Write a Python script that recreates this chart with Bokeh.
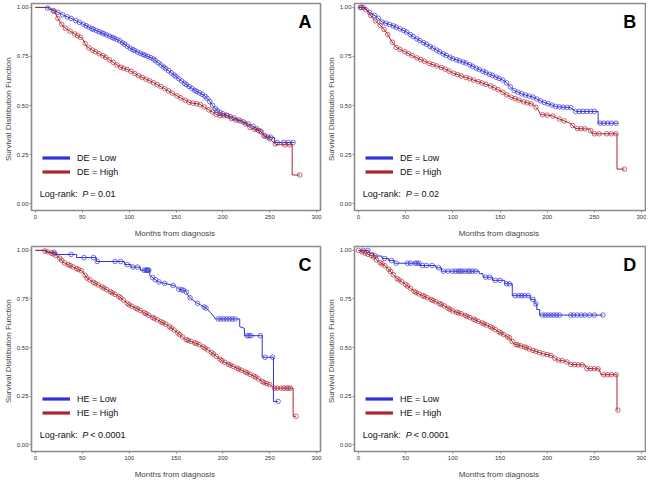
from bokeh.plotting import figure
from bokeh.layouts import gridplot
from bokeh.models import Range1d, Label, Legend, LegendItem, FixedTicker
from bokeh.embed import file_html
from bokeh.resources import INLINE

# ---------------- data ----------------
# Kaplan-Meier curve vertices: (months, survival)
A_low = [(0, 1.0), (12, 1.0), (15, 0.99), (22, 0.98), (30, 0.96), (40, 0.94), (50, 0.917), (60, 0.892),
         (75, 0.862), (90, 0.83), (100, 0.795), (110, 0.77), (125, 0.74), (140, 0.685), (150, 0.648),
         (160, 0.61), (170, 0.577), (180, 0.552), (185, 0.527), (190, 0.494), (195, 0.469), (200, 0.458),
         (210, 0.44), (220, 0.42), (230, 0.40), (240, 0.37), (245, 0.34), (255, 0.337), (255, 0.312), (276, 0.312)]
A_high = [(0, 1.0), (15, 1.0), (20, 0.98), (25, 0.935), (30, 0.90), (35, 0.885), (45, 0.856), (50, 0.842),
          (55, 0.80), (60, 0.785), (75, 0.746), (90, 0.697), (100, 0.68), (110, 0.652), (125, 0.619),
          (135, 0.594), (150, 0.552), (165, 0.514), (175, 0.507), (185, 0.478), (195, 0.449), (205, 0.448),
          (210, 0.43), (220, 0.42), (230, 0.385), (240, 0.37), (245, 0.345), (250, 0.33), (257, 0.30),
          (274, 0.30), (274, 0.146), (282, 0.146)]
B_low = [(0, 1.0), (7, 1.0), (10, 0.98), (20, 0.95), (25, 0.926), (35, 0.91), (50, 0.878), (60, 0.845),
         (75, 0.804), (90, 0.763), (100, 0.739), (115, 0.715), (125, 0.69), (140, 0.657), (150, 0.636),
         (155, 0.625), (160, 0.60), (165, 0.576), (175, 0.556), (185, 0.543), (195, 0.519), (210, 0.494),
         (225, 0.489), (230, 0.47), (254, 0.47), (254, 0.41), (275, 0.41)]
B_high = [(0, 1.0), (5, 1.0), (10, 0.98), (15, 0.945), (25, 0.90), (30, 0.87), (35, 0.829), (40, 0.796),
          (50, 0.772), (60, 0.747), (75, 0.715), (90, 0.69), (100, 0.666), (110, 0.649), (125, 0.625),
          (140, 0.60), (150, 0.576), (160, 0.546), (175, 0.519), (185, 0.506), (190, 0.481), (193, 0.454),
          (205, 0.449), (210, 0.437), (225, 0.408), (230, 0.383), (245, 0.38), (248, 0.356), (274, 0.356),
          (274, 0.176), (282, 0.176)]
C_low = [(0, 1.0), (12, 1.0), (12, 0.99), (22, 0.99), (22, 0.979), (44, 0.979), (44, 0.963), (65, 0.963),
         (65, 0.943), (95, 0.943), (95, 0.927), (102, 0.927), (102, 0.914), (112, 0.914), (112, 0.898),
         (122, 0.898), (122, 0.87), (126, 0.857), (130, 0.841), (135, 0.833), (140, 0.828), (145, 0.822),
         (150, 0.815), (153, 0.80), (160, 0.793), (162, 0.777), (164, 0.76), (167, 0.748), (172, 0.73),
         (176, 0.72), (183, 0.70), (186, 0.683), (190, 0.663), (192, 0.647), (218, 0.647), (218, 0.607),
         (223, 0.599), (223, 0.561), (242, 0.561), (242, 0.45), (254, 0.45), (254, 0.223), (259, 0.223)]
C_high = [(0, 1.0), (8, 1.0), (15, 0.99), (20, 0.98), (25, 0.965), (30, 0.938), (40, 0.915), (50, 0.893),
          (55, 0.858), (60, 0.841), (75, 0.801), (90, 0.76), (100, 0.72), (110, 0.696), (125, 0.655),
          (140, 0.618), (150, 0.583), (160, 0.542), (175, 0.515), (185, 0.485), (200, 0.429), (210, 0.405),
          (225, 0.372), (235, 0.348), (245, 0.316), (250, 0.31), (255, 0.291), (275, 0.291), (275, 0.146),
          (278, 0.146)]
D_low = [(0, 1.0), (11, 1.0), (11, 0.987), (16, 0.987), (16, 0.971), (25, 0.971), (25, 0.958), (32, 0.958),
         (32, 0.948), (38, 0.948), (38, 0.934), (65, 0.934), (65, 0.922), (82, 0.922), (82, 0.91), (88, 0.91),
         (88, 0.893), (128, 0.893), (128, 0.88), (132, 0.88), (132, 0.862), (142, 0.862), (142, 0.846),
         (155, 0.846), (155, 0.828), (163, 0.828), (163, 0.767), (182, 0.767), (182, 0.748), (187, 0.748),
         (187, 0.725), (189, 0.725), (189, 0.696), (192, 0.696), (192, 0.667), (259, 0.667)]
D_high = [(0, 1.0), (5, 0.99), (10, 0.98), (15, 0.971), (20, 0.947), (30, 0.914), (40, 0.858), (50, 0.825),
          (60, 0.785), (75, 0.752), (90, 0.717), (100, 0.688), (110, 0.672), (125, 0.639), (140, 0.607),
          (150, 0.578), (160, 0.55), (165, 0.518), (175, 0.505), (185, 0.485), (195, 0.469), (205, 0.458),
          (210, 0.437), (220, 0.429), (225, 0.413), (240, 0.41), (242, 0.392), (255, 0.39), (257, 0.36),
          (274, 0.36), (274, 0.178), (275, 0.178)]

# censoring times (months)
A_low_cens = [13, 19, 24, 29, 34, 38, 43, 47, 51, 54, 57, 60, 62, 65, 68, 71, 73, 76, 79, 82, 84, 87, 90, 93,
              95, 98, 101, 104, 106, 109, 112, 115, 117, 120, 123, 126, 128, 131, 134, 137, 139, 142, 145, 148,
              150, 153, 156, 159, 161, 164, 167, 170, 172, 175, 178, 181, 183, 186, 189, 192, 194, 197, 200,
              204, 208, 212, 217, 222, 227, 232, 236, 240, 244, 248, 251, 258, 265, 270, 275]
A_high_cens = [20, 24, 28, 32, 37, 42, 45, 48, 53, 57, 61, 64, 68, 72, 75, 79, 83, 87, 91, 94, 98, 102, 106,
               110, 114, 118, 122, 126, 130, 134, 138, 142, 146, 151, 155, 160, 164, 168, 172, 176, 180, 185,
               189, 193, 197, 201, 205, 209, 214, 219, 224, 229, 234, 238, 241, 245, 250, 256, 266, 271, 282]
B_low_cens = [2, 5, 12, 17, 21, 25, 29, 33, 37, 40, 44, 48, 51, 55, 58, 62, 65, 69, 72, 76, 79, 83, 86, 90,
              93, 97, 100, 104, 107, 111, 114, 118, 121, 125, 128, 132, 135, 139, 142, 146, 149, 153, 157, 161,
              165, 169, 173, 177, 181, 185, 189, 193, 197, 201, 205, 209, 213, 217, 221, 225, 230, 234, 238,
              242, 246, 250, 256, 260, 264, 268, 273]
B_high_cens = [3, 8, 13, 18, 23, 27, 31, 36, 40, 44, 49, 53, 57, 62, 66, 70, 75, 79, 83, 88, 92, 96, 101, 105,
               109, 114, 118, 122, 127, 131, 135, 140, 144, 148, 153, 157, 162, 166, 170, 175, 179, 183, 188,
               195, 200, 206, 213, 218, 227, 232, 236, 240, 246, 250, 255, 263, 268, 273, 282]
C_low_cens = [20, 38, 52, 62, 66, 85, 91, 98, 104, 109, 116, 118, 119, 120, 121, 125, 128, 132, 138, 147, 153,
              156, 158, 161, 165, 173, 180, 182, 195, 198, 201, 204, 207, 210, 213, 226, 228, 230, 240, 245,
              253, 259]
C_high_cens = [10, 13, 17, 19, 22, 26, 28, 31, 35, 37, 40, 44, 46, 49, 53, 55, 58, 62, 64, 67, 71, 73, 76, 80,
               82, 85, 89, 91, 94, 98, 100, 103, 107, 109, 112, 116, 118, 121, 125, 127, 130, 134, 136, 139,
               143, 145, 148, 152, 154, 157, 161, 163, 166, 170, 172, 175, 179, 181, 184, 188, 190, 193, 197,
               199, 202, 206, 208, 211, 215, 217, 220, 224, 226, 229, 233, 235, 238, 242, 244, 247, 250, 255,
               258, 262, 265, 268, 270, 272, 278]
D_low_cens = [5, 10, 18, 28, 35, 40, 52, 55, 60, 62, 64, 68, 72, 78, 85, 90, 95, 100, 103, 106, 108, 110, 113,
              116, 118, 121, 124, 135, 139, 145, 150, 157, 160, 166, 170, 173, 176, 180, 185, 188, 195, 198,
              201, 204, 207, 210, 213, 225, 228, 232, 236, 240, 245, 250, 259]
D_high_cens = [0, 4, 7, 10, 14, 16, 19, 23, 25, 28, 32, 34, 37, 41, 43, 46, 50, 52, 55, 59, 61, 64, 68, 70,
               73, 77, 79, 82, 86, 88, 91, 95, 97, 100, 104, 106, 109, 113, 115, 118, 122, 124, 127, 131, 133,
               136, 140, 142, 145, 149, 151, 154, 158, 160, 163, 167, 169, 172, 176, 178, 181, 185, 188, 192,
               196, 200, 204, 208, 212, 216, 221, 225, 229, 233, 237, 242, 246, 250, 254, 260, 264, 268, 273, 275]

x_ticks = [0, 50, 100, 150, 200, 250, 300]
y_ticks = [0.0, 0.25, 0.50, 0.75, 1.00]
y_tick_labels = {0.0: "0.00", 0.25: "0.25", 0.5: "0.50", 0.75: "0.75", 1.0: "1.00"}

# ---------------- styling ----------------
BLUE = "#3030d8"
RED = "#ae2430"
FONT = "Liberation Sans"
NAN = float("nan")


def surv_at(curve, c):
    ts = [p[0] for p in curve]
    ss = [p[1] for p in curve]
    i = max(k for k in range(len(ts)) if ts[k] <= c)
    if i + 1 < len(ts) and ts[i + 1] > ts[i]:
        f = (c - ts[i]) / (ts[i + 1] - ts[i])
        return ss[i] + f * (ss[i + 1] - ss[i])
    return ss[i]


def panel(low, low_c, high, high_c, var, ptext, letter, width, height, bl, br, bt, bb, leg_y):
    p = figure(width=width, height=height, output_backend="svg", toolbar_location=None,
               x_range=Range1d(-4.2, 304.2), y_range=Range1d(-0.035, 1.02),
               min_border_left=bl, min_border_right=br, min_border_top=bt, min_border_bottom=bb)
    p.xgrid.visible = False
    p.ygrid.visible = False
    p.outline_line_color = "#8a8a8a"
    p.outline_line_width = 1.6
    p.background_fill_color = "white"
    p.border_fill_color = "white"

    for ax in (p.xaxis[0], p.yaxis[0]):
        ax.axis_line_color = "#8a8a8a"
        ax.major_tick_line_color = "#8a8a8a"
        ax.major_tick_out = 2
        ax.major_tick_in = 0
        ax.minor_tick_line_color = None
        ax.major_label_text_font = FONT
        ax.major_label_text_font_size = "6px"
        ax.major_label_text_color = "#333333"
        ax.axis_label_text_font = FONT
        ax.axis_label_text_font_size = "8px"
        ax.axis_label_text_font_style = "normal"
        ax.axis_label_text_color = "#444444"
    p.xaxis[0].major_label_standoff = 2
    p.xaxis[0].axis_label_standoff = 7
    p.yaxis[0].major_label_standoff = 1
    p.yaxis[0].axis_label_standoff = 1

    p.xaxis.ticker = FixedTicker(ticks=x_ticks)
    p.yaxis.ticker = FixedTicker(ticks=y_ticks)
    p.yaxis.major_label_overrides = y_tick_labels
    p.xaxis.axis_label = "Months  from diagnosis"
    p.yaxis.axis_label = "Survival  Distribution  Function"

    for curve, cens, col in ((low, low_c, BLUE), (high, high_c, RED)):
        p.line([q[0] for q in curve], [q[1] for q in curve], line_color=col, line_width=1)
        p.scatter(cens, [surv_at(curve, c) for c in cens], marker="circle", size=4.6,
                  fill_color=None, line_color=col, line_width=0.8, line_alpha=0.85)

    r_low = p.line([NAN], [NAN], line_color=BLUE, line_width=3.2)
    r_high = p.line([NAN], [NAN], line_color=RED, line_width=3.2)
    legend = Legend(items=[LegendItem(label=f"{var} = Low", renderers=[r_low]),
                           LegendItem(label=f"{var} = High", renderers=[r_high])],
                    location=(11, leg_y), glyph_width=28, glyph_height=13, label_height=13,
                    label_standoff=7, spacing=1, padding=0, margin=0,
                    border_line_color=None, background_fill_alpha=0,
                    label_text_font=FONT, label_text_font_size="9px", label_text_color="#111111")
    p.add_layout(legend)

    p.add_layout(Label(x=4.5, y=0.05, text="Log-rank:", text_font=FONT, text_font_size="9px",
                       text_baseline="middle", text_color="#111111"))
    p.add_layout(Label(x=50, y=0.05, text="P", text_font=FONT, text_font_size="9px",
                       text_font_style="italic", text_baseline="middle", text_color="#111111"))
    p.add_layout(Label(x=58.5, y=0.05, text=ptext, text_font=FONT, text_font_size="9px",
                       text_baseline="middle", text_color="#111111"))
    p.add_layout(Label(x=294.5, y=0.975, text=letter, text_font=FONT, text_font_size="18px",
                       text_font_style="bold", text_align="right", text_baseline="top",
                       text_color="black"))
    return p


pA = panel(A_low, A_low_cens, A_high, A_high_cens, "DE", "= 0.01", "A", 323, 240, 24, 3, 3, 28, 32)
pB = panel(B_low, B_low_cens, B_high, B_high_cens, "DE", "= 0.02", "B", 323, 240, 29, 1, 3, 28, 32)
pC = panel(C_low, C_low_cens, C_high, C_high_cens, "HE", "< 0.0001", "C", 323, 241, 24, 3, 6, 27, 32)
pD = panel(D_low, D_low_cens, D_high, D_high_cens, "HE", "< 0.0001", "D", 323, 241, 29, 1, 6, 27, 32)

grid = gridplot([[pA, pB], [pC, pD]], toolbar_location=None)

open("out.html", "w").write(file_html(grid, INLINE))
